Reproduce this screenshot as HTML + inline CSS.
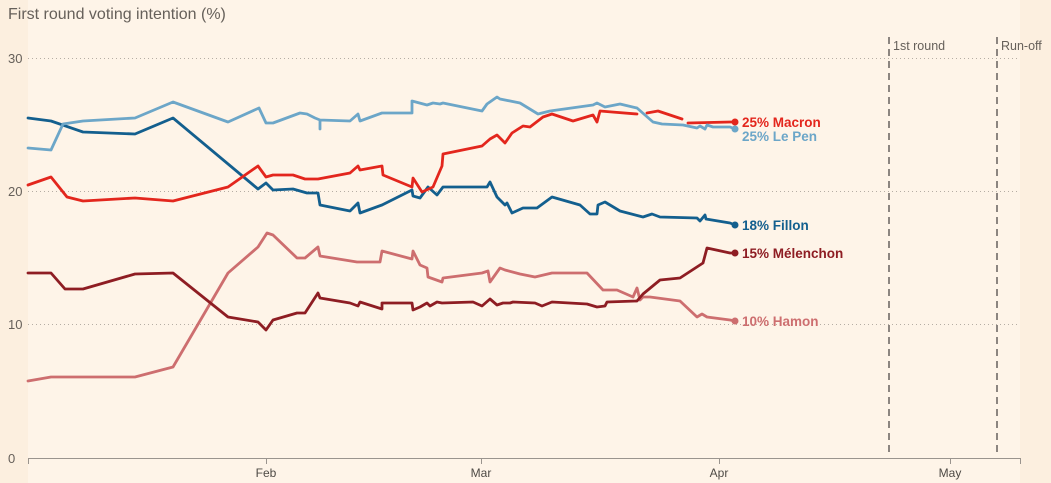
<!DOCTYPE html>
<html>
<head>
<meta charset="utf-8">
<style>
  html,body{margin:0;padding:0;background:#fcefdf;}
  svg{display:block;}
  text{font-family:"Liberation Sans",sans-serif;}
</style>
</head>
<body>
<svg width="1051" height="483" viewBox="0 0 1051 483" xmlns="http://www.w3.org/2000/svg">
  <rect x="0" y="0" width="1051" height="483" fill="#fcefdf"/>
  <rect x="28" y="0" width="992" height="483" fill="#fef4e8"/>

  <!-- title -->
  <text x="8" y="19" font-size="16" fill="#66605a">First round voting intention (%)</text>

  <!-- grid -->
  <g stroke="#b5ada4" stroke-width="1" stroke-dasharray="1,3">
    <line x1="28" y1="58.5" x2="1020" y2="58.5"/>
    <line x1="28" y1="191.5" x2="1020" y2="191.5"/>
    <line x1="28" y1="324.5" x2="1020" y2="324.5"/>
  </g>
  <g font-size="13" fill="#66605a">
    <text x="8" y="63">30</text>
    <text x="8" y="196">20</text>
    <text x="8" y="329">10</text>
    <text x="8" y="463">0</text>
  </g>

  <!-- x axis -->
  <g stroke="#9a948e" stroke-width="1">
    <line x1="28.5" y1="458.5" x2="1020.5" y2="458.5"/>
    <line x1="28.5" y1="458" x2="28.5" y2="464"/>
    <line x1="1020.5" y1="458" x2="1020.5" y2="464"/>
    <line x1="266.5" y1="458" x2="266.5" y2="464"/>
    <line x1="481.5" y1="458" x2="481.5" y2="464"/>
    <line x1="719.5" y1="458" x2="719.5" y2="464"/>
    <line x1="950.5" y1="458" x2="950.5" y2="464"/>
  </g>
  <g font-size="12" fill="#4e4a45" text-anchor="middle">
    <text x="266" y="477">Feb</text>
    <text x="481" y="477">Mar</text>
    <text x="719" y="477">Apr</text>
    <text x="950" y="477">May</text>
  </g>

  <!-- event lines -->
  <g stroke="#8c8580" stroke-width="2" stroke-dasharray="7,5">
    <line x1="889" y1="37" x2="889" y2="453"/>
    <line x1="997" y1="37" x2="997" y2="453"/>
  </g>
  <g font-size="12.5" fill="#66605a">
    <text x="893" y="50">1st round</text>
    <text x="1001" y="50">Run-off</text>
  </g>

  <!-- series -->
  <g fill="none" stroke-width="2.8" stroke-linejoin="round" stroke-linecap="round">
    <polyline stroke="#cd6e6f" points="28,381 51,377 135,377 173,367 228,273 258,247 267,233 273,235 297,258 305,258 318,247 320,256 357,262 380,262 382,251 412,259 413,251 420,265 427,268 428,277 442,282 443,278 482,273 488,271 490,282 500,268 505,270 520,274 535,277 552,273 587,273 603,290 617,290 633,297 637,288 640,300 643,297 650,297 680,301 697,317 702,314 707,317 730,320 735,321"/>
    <polyline stroke="#8e1d23" points="28,273 51,273 65,289 83,289 135,274 173,273 228,317 258,322 266,330 273,320 297,313 305,313 318,293 320,298 350,303 358,306 360,302 382,309 382,303 412,303 413,310 420,307 427,303 430,306 437,302 442,303 473,302 482,306 490,299 497,305 503,303 510,303 513,302 535,303 542,306 552,302 587,304 597,307 605,306 607,302 637,301 643,294 660,280 680,278 703,263 707,248 730,253 735,253"/>
    <polyline stroke="#135f8e" points="28,118 51,121 83,132 135,134 173,118 258,189 266,183 273,190 293,189 307,193 318,193 320,205 350,211 358,203 360,213 382,205 412,190 413,196 420,198 428,187 437,195 443,187 487,187 490,182 497,197 505,205 507,203 512,213 523,208 537,208 552,197 580,205 590,214 597,214 598,205 605,202 620,211 643,217 652,214 660,217 697,218 700,221 705,215 706,219 730,223 735,225"/>
    <polyline stroke="#e3261d" points="28,185 51,177 67,197 83,201 135,198 173,201 228,187 258,166 266,177 273,175 293,175 305,179 318,179 350,173 358,166 360,170 382,166 383,175 412,187 413,178 422,192 433,187 442,166 443,154 482,146 490,139 497,135 505,143 512,133 523,126 530,127 543,117 552,114 573,121 593,115 597,122 600,111 612,112 637,114"/>
    <polyline stroke="#e3261d" points="647,113 658,111 682,119"/>
    <polyline stroke="#e3261d" points="688,123 730,122 735,122"/>
    <polyline stroke="#6ca6c8" points="28,148 51,150 63,124 83,121 135,118 173,102 228,122 259,108 266,123 273,123 300,113 307,114 315,118 320,120 320,129 320,120 350,121 358,114 360,121 382,113 412,113 412,101 427,105 433,103 440,104 443,103 482,111 487,104 497,97 500,99 520,103 538,114 550,111 593,105 597,103 605,107 620,104 637,108 653,122 662,124 683,125 697,128 700,126 705,129 707,125 713,127 730,127 735,129"/>
  </g>

  <!-- end dots -->
  <circle cx="735" cy="122" r="3.5" fill="#e3261d"/>
  <circle cx="735" cy="129" r="3.5" fill="#6ca6c8"/>
  <circle cx="735" cy="225" r="3.5" fill="#135f8e"/>
  <circle cx="735" cy="253" r="3.5" fill="#8e1d23"/>
  <circle cx="735" cy="321" r="3.5" fill="#cd6e6f"/>

  <!-- labels -->
  <g font-size="13.5" font-weight="bold">
    <text x="742" y="127" fill="#e3261d">25% Macron</text>
    <text x="742" y="141" fill="#6ca6c8">25% Le Pen</text>
    <text x="742" y="230" fill="#135f8e">18% Fillon</text>
    <text x="742" y="258" fill="#8e1d23">15% Mélenchon</text>
    <text x="742" y="326" fill="#cd6e6f">10% Hamon</text>
  </g>
</svg>
</body>
</html>
